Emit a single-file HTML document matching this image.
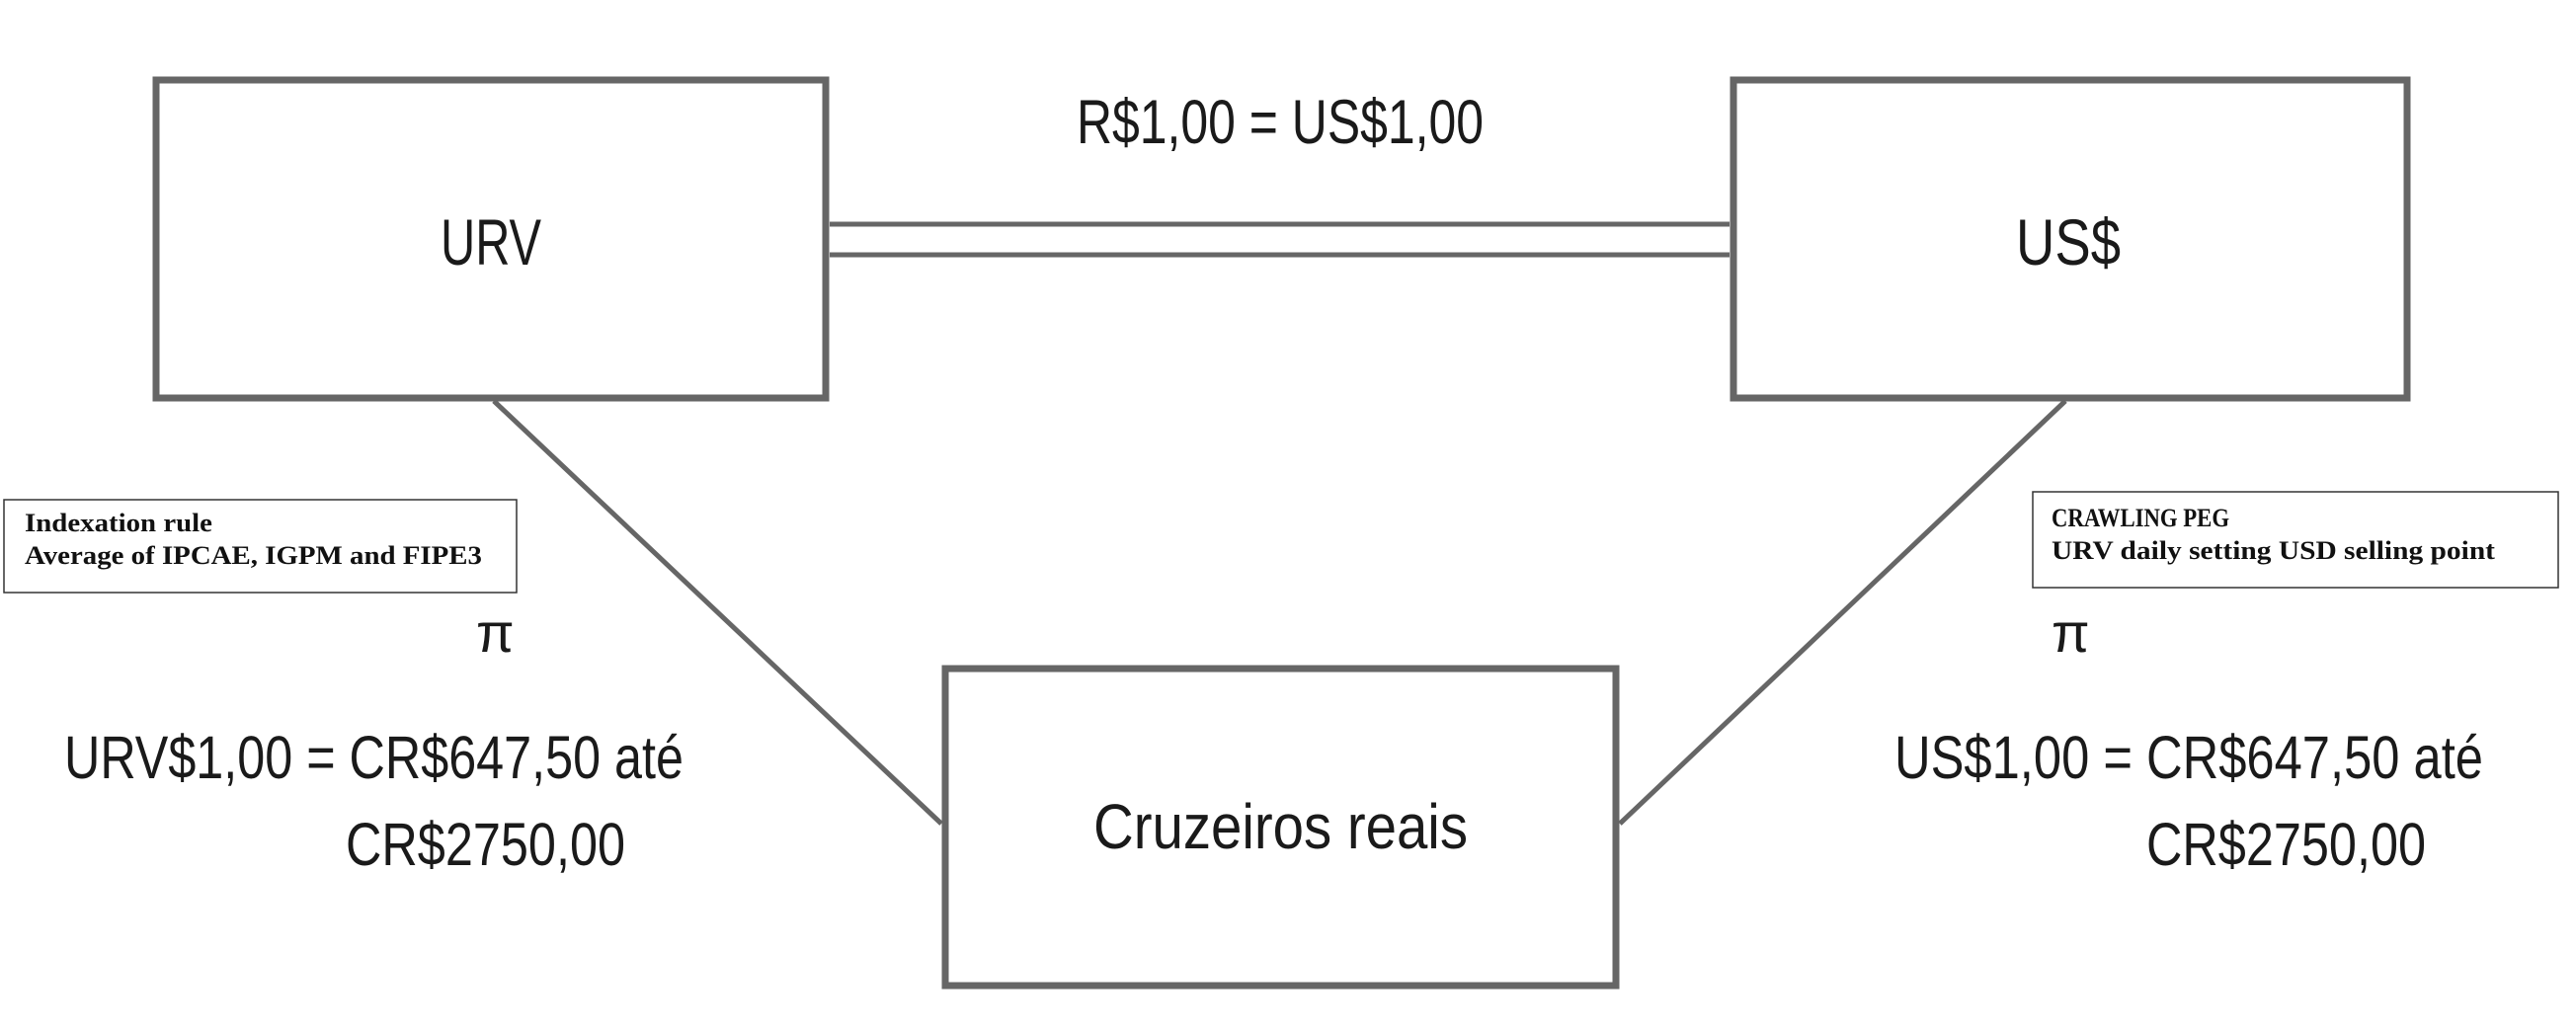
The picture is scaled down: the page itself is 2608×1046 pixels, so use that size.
<!DOCTYPE html>
<html><head><meta charset="utf-8"><style>
html,body{margin:0;padding:0;background:#fff;overflow:hidden;}
svg{display:block;}
.s{font-family:"Liberation Sans",sans-serif;fill:#1a1a1a;}
.r{font-family:"Liberation Serif",serif;font-weight:bold;fill:#111;}
</style></head><body>
<svg width="2608" height="1046" viewBox="0 0 2608 1046" xmlns="http://www.w3.org/2000/svg">
<g fill="none" stroke="#666" stroke-width="7">
<rect x="158" y="81" width="678" height="322"/>
<rect x="1755" y="81" width="682" height="322"/>
<rect x="957" y="677" width="679" height="321"/>
</g>
<g stroke="#666" stroke-width="5">
<line x1="840" y1="227" x2="1751" y2="227"/>
<line x1="840" y1="258" x2="1751" y2="258"/>
<line x1="500" y1="406" x2="953" y2="834"/>
<line x1="2091" y1="406" x2="1640" y2="834"/>
</g>
<g fill="none" stroke="#333" stroke-width="1.5">
<rect x="4" y="506" width="519" height="94"/>
<rect x="2058" y="498" width="532" height="97"/>
</g>
<text class="s" x="1090" y="145" font-size="63" textLength="412" lengthAdjust="spacingAndGlyphs">R$1,00 = US$1,00</text>
<text class="s" x="446" y="268" font-size="66" textLength="102" lengthAdjust="spacingAndGlyphs">URV</text>
<text class="s" x="2041" y="268" font-size="66" textLength="106" lengthAdjust="spacingAndGlyphs">US$</text>
<text class="s" x="1107" y="859" font-size="64" textLength="379" lengthAdjust="spacingAndGlyphs">Cruzeiros reais</text>
<text class="r" x="25" y="538" font-size="26" textLength="190" lengthAdjust="spacingAndGlyphs">Indexation rule</text>
<text class="r" x="25" y="571" font-size="26" textLength="463" lengthAdjust="spacingAndGlyphs">Average of IPCAE, IGPM and FIPE3</text>
<text class="r" x="2077" y="533" font-size="26" textLength="180" lengthAdjust="spacingAndGlyphs">CRAWLING PEG</text>
<text class="r" x="2077" y="566" font-size="26" textLength="449" lengthAdjust="spacingAndGlyphs">URV daily setting USD selling point</text>
<text class="s" x="482" y="660" font-size="56">π</text>
<text class="s" x="2077" y="660" font-size="56">π</text>
<text class="s" x="65" y="788" font-size="61" textLength="627" lengthAdjust="spacingAndGlyphs">URV$1,00 = CR$647,50 até</text>
<text class="s" x="350" y="876" font-size="61" textLength="283" lengthAdjust="spacingAndGlyphs">CR$2750,00</text>
<text class="s" x="1918" y="788" font-size="61" textLength="596" lengthAdjust="spacingAndGlyphs">US$1,00 = CR$647,50 até</text>
<text class="s" x="2173" y="876" font-size="61" textLength="283" lengthAdjust="spacingAndGlyphs">CR$2750,00</text>
</svg>
</body></html>
